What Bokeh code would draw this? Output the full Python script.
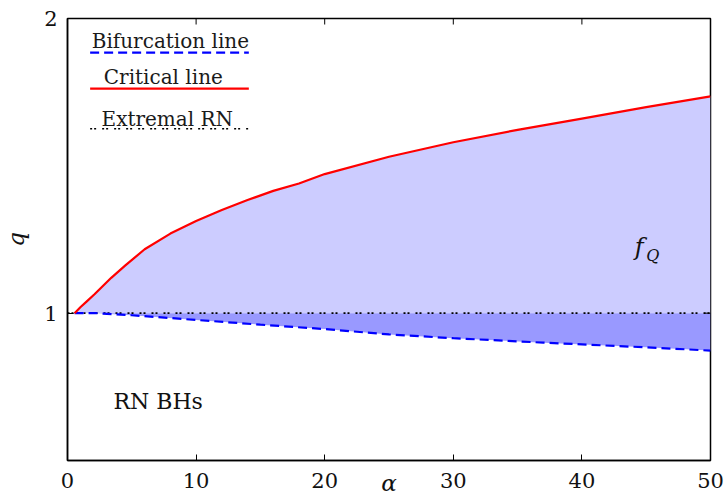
from bokeh.plotting import figure
from bokeh.models import FixedTicker, Range1d
from bokeh.core.properties import value
from bokeh.embed import file_html
from bokeh.resources import INLINE

# ---- data ----
crit_x = [0.55, 1.0, 1.5, 2.1, 3.4, 4.5, 6.0, 8.0, 10.0, 12.0, 14.0, 16.0, 18.0, 20.0, 25.0, 30.0, 35.0, 40.0, 45.0, 50.0]
crit_y = [1.0, 1.02, 1.04, 1.064, 1.12, 1.162, 1.217, 1.27, 1.313, 1.35, 1.384, 1.415, 1.44, 1.472, 1.531, 1.58, 1.622, 1.66, 1.699, 1.736]
bif_x = [0.55, 2.2, 5.0, 10.0, 15.0, 20.0, 25.0, 30.0, 37.0, 45.0, 50.0]
bif_y = [1.0, 1.0, 0.993, 0.977, 0.961, 0.946, 0.928, 0.915, 0.9, 0.884, 0.873]
ext_x = [0.0, 50.0]
ext_y = [1.0, 1.0]
x_ticks = [0, 10, 20, 30, 40, 50]
y_ticks = [1, 2]
legend_labels = ["Bifurcation line", "Critical line", "Extremal RN"]

FONT = "DejaVu Serif"
XMIN, XMAX, YMIN, YMAX = 0, 50, 0.5, 2.0

p = figure(width=724, height=504, output_backend="svg", toolbar_location=None,
           x_range=Range1d(XMIN, XMAX), y_range=Range1d(YMIN, YMAX),
           x_axis_label="α", y_axis_label="q",
           min_border_left=66, min_border_right=14, min_border_top=18, min_border_bottom=44)
p.grid.visible = False
p.outline_line_color = "black"
p.outline_line_width = 1.5
p.background_fill_color = "white"
p.border_fill_color = "white"

# fills
ones_c = [1.0] * len(crit_x)
ones_b = [1.0] * len(bif_x)
p.varea(x=crit_x, y1=ones_c, y2=crit_y, fill_color="#ccccff")
p.varea(x=bif_x, y1=bif_y, y2=ones_b, fill_color="#9999ff")

# lines
p.line(ext_x, ext_y, line_color="black", line_width=1.6, line_dash="2 2 2 6")
p.line(bif_x, bif_y, line_color="#0000ff", line_width=2.2, line_dash="9 5")
p.line(crit_x, crit_y, line_color="#ff0000", line_width=2.2, line_join="round")

# legend (text above sample line)
lx0, lx1 = 1.76, 14.1
p.segment(x0=[lx0], y0=[1.884], x1=[lx1], y1=[1.884], line_color="#0000ff", line_width=2.2, line_dash="9 5")
p.segment(x0=[lx0], y0=[1.762], x1=[lx1], y1=[1.762], line_color="#ff0000", line_width=2.2)
p.segment(x0=[lx0], y0=[1.626], x1=[lx1], y1=[1.626], line_color="black", line_width=1.6, line_dash="2 2 2 6")
p.text(x=[8.0, 7.45, 7.76], y=[1.922, 1.803, 1.660], text=legend_labels,
       text_font=value(FONT), text_font_size="20px", text_align="center",
       text_baseline="middle", text_color="#1a1a1a")

# region labels
p.text(x=[7.05], y=[0.701], text=["RN BHs"], text_font=value(FONT), text_font_size="22px",
       text_align="center", text_baseline="middle", text_color="#111111")
p.text(x=[44.1], y=[1.225], text=["f"], text_font=value(FONT), text_font_size="24px",
       text_font_style="italic", text_align="left", text_baseline="middle", text_color="#111111")
p.text(x=[45.0], y=[1.195], text=["Q"], text_font=value(FONT), text_font_size="16px",
       text_font_style="italic", text_align="left", text_baseline="middle", text_color="#111111")

# inward tick marks on the top and right frame edges (from the tick lists)
tick_dy = 6.0 * (YMAX - YMIN) / 442.0
tick_dx = 6.0 * (XMAX - XMIN) / 644.0
p.segment(x0=x_ticks, y0=[YMAX] * len(x_ticks), x1=x_ticks, y1=[YMAX - tick_dy] * len(x_ticks),
          line_color="black", line_width=1)
p.segment(x0=[XMAX] * len(y_ticks), y0=y_ticks, x1=[XMAX - tick_dx] * len(y_ticks), y1=y_ticks,
          line_color="black", line_width=1)

# axes
def style_axis(ax, ticks):
    ax.ticker = FixedTicker(ticks=ticks)
    ax.axis_line_color = "black"
    ax.axis_line_width = 1.5
    ax.major_tick_in = 6
    ax.major_tick_out = 0
    ax.minor_tick_line_color = None
    ax.major_tick_line_color = "black"
    ax.major_label_text_font = FONT
    ax.major_label_text_color = "#111111"
    ax.major_label_text_font_size = "21px"

xa = p.xaxis[0]
style_axis(xa, x_ticks)
xa.major_label_standoff = 12
xa.axis_label_text_font = FONT
xa.axis_label_text_font_style = "italic"
xa.axis_label_text_font_size = "23px"
xa.axis_label_standoff = -21
xa.axis_label_text_color = "#111111"

ya = p.yaxis[0]
style_axis(ya, y_ticks)
ya.major_label_standoff = 10
ya.major_label_orientation = "horizontal"
ya.axis_label_text_font = FONT
ya.axis_label_text_font_style = "italic"
ya.axis_label_text_font_size = "23px"
ya.axis_label_standoff = 12
ya.axis_label_text_color = "#111111"

open("out.html", "w").write(file_html(p, INLINE))
